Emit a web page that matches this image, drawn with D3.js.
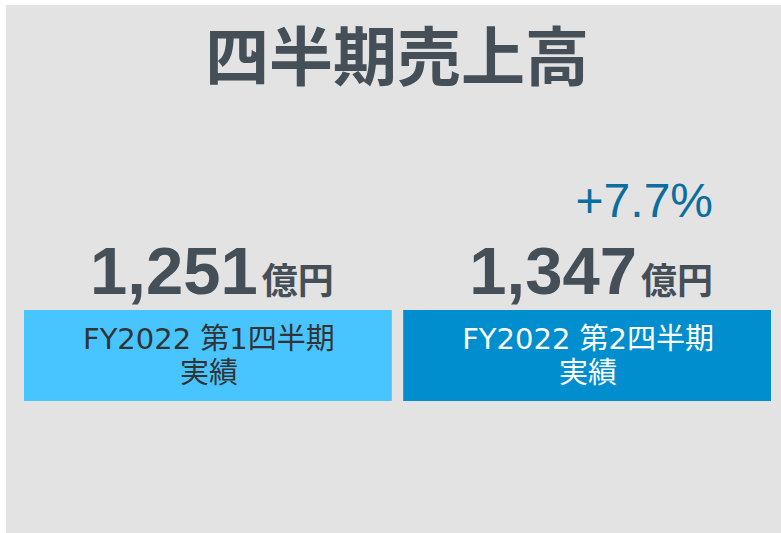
<!DOCTYPE html>
<html>
<head>
<meta charset="utf-8">
<script src="https://cdn.jsdelivr.net/npm/d3@7"></script>
<style>
  body { margin: 0; background: #fff; }
  svg { display: block; }
</style>
</head>
<body>
<div class="chart"></div>
<script>
// data
const title = "四半期売上高";
const periods = ["FY2022 第1四半期", "FY2022 第2四半期"];
const periodSub = ["実績", "実績"];
const sales = [1251, 1347];
const unit = "億円";
const growth = [null, "+7.7%"];

const W = 781, H = 533;
const boxColors = ["#48C5FF", "#008ECF"];
const boxText = ["#333333", "#ffffff"];
const dark = "#454F57";

const svg = d3.select(".chart").append("svg")
  .attr("width", W).attr("height", H);

// background panel
svg.append("rect")
  .attr("x", 6).attr("y", 5)
  .attr("width", W - 6).attr("height", H - 5)
  .attr("fill", "#E3E3E3");

svg.append("text")
  .attr("x", 397).attr("y", 80)
  .attr("text-anchor", "middle")
  .style("font-family", "'Noto Sans CJK JP'")
  .style("font-weight", 700)
  .style("font-size", "64px")
  .attr("fill", dark)
  .text(title);

const x = d3.scaleBand()
  .domain(d3.range(periods.length))
  .range([24, 771])
  .paddingInner(0.03);

const fmt = d3.format(",");

const g = svg.selectAll(".col")
  .data(periods)
  .enter().append("g")
  .attr("class", "col");

g.append("rect")
  .attr("x", (d, i) => x(i))
  .attr("y", 310)
  .attr("width", x.bandwidth())
  .attr("height", 91)
  .attr("fill", (d, i) => boxColors[i]);

const lab = g.append("text")
  .attr("text-anchor", "middle")
  .style("font-family", "'DejaVu Sans', 'Noto Sans CJK JP'")
  .style("font-size", "29px")
  .attr("fill", (d, i) => boxText[i]);
lab.append("tspan")
  .attr("x", (d, i) => x(i) + x.bandwidth() / 2 + 1)
  .attr("y", 349)
  .text(d => d);
lab.append("tspan")
  .attr("x", (d, i) => x(i) + x.bandwidth() / 2 + 1)
  .attr("y", 383)
  .text((d, i) => periodSub[i]);

// big numbers
const num = g.append("text")
  .attr("x", (d, i) => x(i) + x.bandwidth() / 2 + 4)
  .attr("y", 294)
  .attr("text-anchor", "middle")
  .attr("fill", dark);
num.append("tspan")
  .style("font-family", "'Liberation Sans', Arial")
  .style("font-weight", 700)
  .style("font-size", "67px")
  .text((d, i) => fmt(sales[i]));
num.append("tspan")
  .attr("dx", 4)
  .style("font-family", "'Noto Sans CJK JP'")
  .style("font-weight", 700)
  .style("font-size", "36px")
  .text(unit);

// growth label
g.filter((d, i) => growth[i])
  .append("text")
  .attr("x", (d, i) => x(1) + x.bandwidth() - 58)
  .attr("y", 217)
  .attr("text-anchor", "end")
  .style("font-family", "'Liberation Sans', Arial")
  .style("font-size", "48px")
  .attr("fill", "#0A6E9E")
  .text(d => growth[periods.indexOf(d)]);
</script>
</body>
</html>
